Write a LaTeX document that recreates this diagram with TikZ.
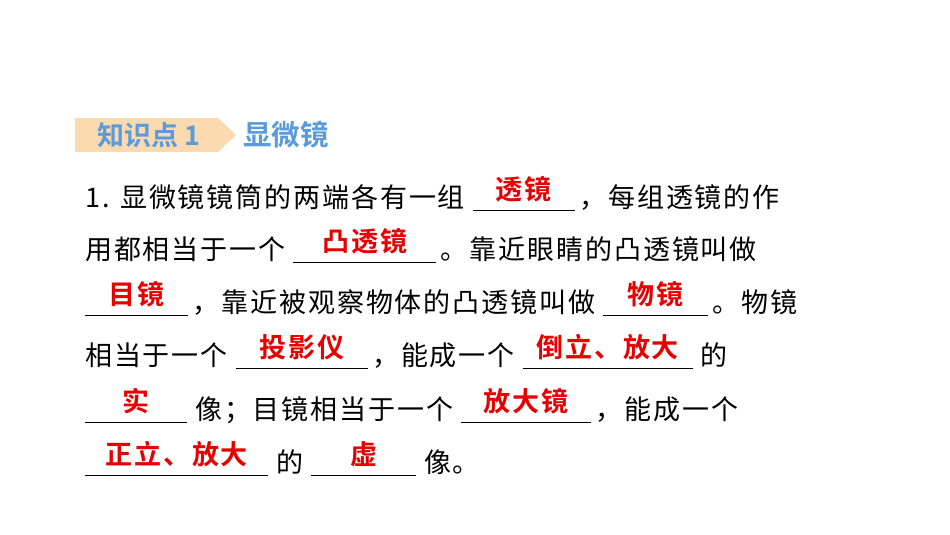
\documentclass[tikz,border=0pt]{standalone}
\usepackage{fontspec}
\setmainfont{Noto Sans CJK SC}[BoldFont={Noto Sans CJK SC Bold}]
\newfontfamily\bodyfont{Noto Sans CJK SC}[BoldFont={Noto Sans CJK SC Bold}, LetterSpace=7]
\usetikzlibrary{positioning, shapes}
\definecolor{ansred}{RGB}{230,0,0}
\definecolor{tagbg}{RGB}{251,218,175}
\definecolor{tagblue}{RGB}{90,155,220}
\newcommand\ans[2]{\makebox[#1][c]{\raisebox{8pt}{\textcolor{ansred}{\bfseries #2}}}\kern-#1\rule[-4pt]{#1}{0.7pt}}
\begin{document}
\begin{tikzpicture}[x=1pt, y=1pt]
  \tikzstyle{line}=[anchor=base west, inner sep=0pt, font=\bodyfont\fontsize{27}{30}\selectfont]
  \useasboundingbox[fill=white] (0,0) rectangle (950,-535);

  % heading tag
  \fill[tagbg] (75,-118) -- (218,-118) -- (236,-135) -- (218,-152) -- (75,-152) -- cycle;
  \node (tag) at (149,-135) [font=\fontsize{27}{30}\selectfont\bfseries, text=tagblue] {知识点 1};
  \node (title) at (243,-135) [anchor=west, inner sep=0pt, font=\fontsize{28.5}{30}\selectfont\bfseries, text=tagblue] {显微镜};

  % text lines
  \node (l1) at (85,-207) [line] {1. 显微镜镜筒的两端各有一组 \ans{102pt}{透镜}\,，每组透镜的作};
  \node (l2) at (85,-259) [line] {用都相当于一个 \ans{143pt}{凸透镜}\,。靠近眼睛的凸透镜叫做};
  \node (l3) at (85,-312) [line] {\ans{103pt}{目镜}\,，靠近被观察物体的凸透镜叫做 \ans{105pt}{物镜}\,。物镜};
  \node (l4) at (85,-365) [line] {相当于一个 \ans{132pt}{投影仪}\,，能成一个 \ans{170pt}{倒立、放大} 的};
  \node (l5) at (85,-419) [line] {\ans{102pt}{实} 像；目镜相当于一个 \ans{130pt}{放大镜}\,，能成一个};
  \node (l6) at (85,-472) [line] {\ans{183pt}{正立、放大} 的 \ans{105pt}{虚} 像。};
\end{tikzpicture}
\end{document}
